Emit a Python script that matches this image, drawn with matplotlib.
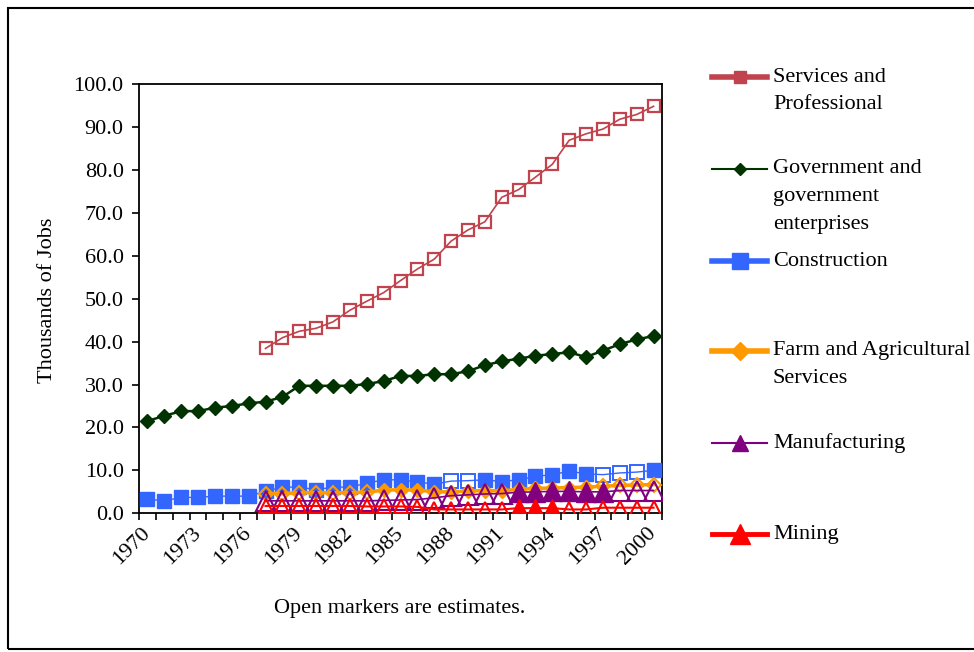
import numpy as np
import matplotlib
matplotlib.use("Agg")
import matplotlib.pyplot as plt
from matplotlib.lines import Line2D
from matplotlib.patches import Rectangle

plt.rcParams["font.family"] = ["Liberation Serif", "DejaVu Serif"]

# ---- data (thousands of jobs) ----
years = list(range(1970, 2001))
tick_years = list(range(1970, 2001, 3))

services = [None] * 7 + [38.4, 40.9, 42.4, 43.1, 44.6, 47.3, 49.4, 51.4, 54.2, 56.9,
                         59.2, 63.4, 66.0, 67.9, 73.6, 75.4, 78.3, 81.3, 86.9, 88.4,
                         89.5, 91.8, 92.9, 94.8]
services_est = [0] * 7 + [1] * 24

government = [21.5, 22.7, 23.8, 23.8, 24.6, 25.0, 25.6, 26.0, 27.1, 29.7,
              29.7, 29.7, 29.7, 30.1, 30.8, 32.0, 32.0, 32.4, 32.4, 33.1,
              34.5, 35.4, 36.0, 36.7, 37.1, 37.5, 36.4, 37.9, 39.4, 40.5, 41.3]
government_est = [0] * 31

construction = [3.3, 2.9, 3.7, 3.7, 4.0, 4.0, 4.0, 5.1, 6.1, 6.1,
                5.5, 6.1, 6.1, 7.0, 7.8, 7.8, 7.3, 6.8, 7.5, 7.6,
                7.8, 7.4, 7.8, 8.6, 9.0, 9.8, 9.2, 9.0, 9.4, 9.6, 10.0]
construction_est = [0] * 18 + [1, 1] + [0] * 7 + [1, 1, 1] + [0]

farm = [None] * 7 + [4.6, 4.6, 4.8, 4.8, 4.8, 4.8, 4.9, 5.4, 5.5, 5.4,
                     5.0, 5.0, 5.2, 5.3, 5.2, 5.6, 5.8, 5.9, 6.0, 6.1,
                     6.3, 6.5, 6.6, 6.7]
farm_est = [0] * 7 + [1] * 7 + [0] * 13 + [1] * 4

manufacturing = [None] * 7 + [2.9, 2.9, 2.9, 2.9, 2.9, 2.9, 2.9, 3.0, 3.1, 3.2,
                              3.6, 4.1, 4.3, 4.5, 4.6, 4.9, 5.0, 5.1, 5.1, 5.0,
                              5.0, 5.3, 5.3, 5.3]
manufacturing_est = [0] * 7 + [1] * 15 + [0] * 6 + [1] * 3

mining = [None] * 7 + [1.7, 1.7, 1.7, 1.7, 1.7, 1.7, 1.6, 1.6, 1.6, 1.5,
                       0.9, 0.9, 0.9, 0.9, 0.9, 1.2, 1.2, 1.2, 0.9, 0.9,
                       1.3, 1.3, 1.3, 1.3]
mining_est = [0] * 7 + [1] * 15 + [0] * 3 + [1] * 6

# ---- figure ----
W, H = 974, 652
fig = plt.figure(figsize=(W / 100, H / 100), dpi=100)


def fx(px):
    return px / W


def fy(py):
    return 1 - py / H


ax = fig.add_axes([fx(139), fy(513.3), fx(662) - fx(139), fy(84) - fy(513.3)])

x = np.arange(len(years))


def draw_series(vals, est, color, marker, ms, lw, mew=1.5, ms_actual=None, z=2):
    y = np.array([np.nan if v is None else v for v in vals], dtype=float)
    e = np.array(est, dtype=bool) & ~np.isnan(y)
    a = ~np.array(est, dtype=bool) & ~np.isnan(y)
    ax.plot(x, y, color=color, lw=lw, zorder=z, solid_joinstyle="round")
    ax.plot(x[a], y[a], ls="none", marker=marker, ms=ms_actual or ms,
            mfc=color, mec=color, mew=1.0, zorder=z)
    ax.plot(x[e], y[e], ls="none", marker=marker, ms=ms,
            mfc="none", mec=color, mew=mew, zorder=z)


c_serv = "#C0434D"
c_gov = "#003300"
c_con = "#3366FF"
c_farm = "#FF9900"
c_man = "#800080"
c_min = "#FF0000"

draw_series(services, services_est, c_serv, "s", 8.5, 1.2, mew=1.6, z=2)
draw_series(government, government_est, c_gov, "D", 7.0, 1.8, z=3)
draw_series(construction, construction_est, c_con, "s", 9.5, 1.0, mew=1.4, z=4)
draw_series(farm, farm_est, c_farm, "D", 7.5, 2.5, mew=1.5, z=5)
draw_series(manufacturing, manufacturing_est, c_man, "^", 14, 1.2, mew=1.5, z=6)
draw_series(mining, mining_est, c_min, "^", 10, 1.5, mew=1.5, ms_actual=13, z=7)

# axes
ax.set_xlim(-0.5, len(years) - 0.5)
ax.set_ylim(0, 100)
ax.set_yticks(np.arange(0, 101, 10))
ax.set_yticklabels([f"{v:.1f}" for v in np.arange(0, 101, 10)])
ax.set_xticks([years.index(t) for t in tick_years])
ax.set_xticklabels([str(t) for t in tick_years], rotation=45,
                   ha="right", va="center", rotation_mode="anchor")
ax.set_xticks(np.arange(-0.5, len(years), 1), minor=True)
ax.tick_params(axis="x", which="major", length=0, pad=12, labelsize=16)
ax.tick_params(axis="x", which="minor", length=5, width=1.2, direction="out")
ax.tick_params(axis="y", which="major", length=5, width=1.2, direction="out",
               pad=6, labelsize=16)
for s in ax.spines.values():
    s.set_linewidth(1.3)
    s.set_color("black")

fig.text(fx(48), fy(300), "Thousands of Jobs", rotation=90,
         ha="center", va="center", fontsize=16)
fig.text(fx(400), fy(608), "Open markers are estimates.",
         ha="center", va="center", fontsize=16)

# legend, drawn entry by entry
legend_entries = [
    (["Services and", "Professional"], c_serv, "s", 9, 4.0, 77),
    (["Government and", "government", "enterprises"], c_gov, "D", 6, 1.5, 169),
    (["Construction"], c_con, "s", 11, 4.0, 261),
    (["Farm and Agricultural", "Services"], c_farm, "D", 9, 4.0, 351),
    (["Manufacturing"], c_man, "^", 11, 1.5, 443),
    (["Mining"], c_min, "^", 14, 3.5, 534),
]
for lines, col, mk, ms, lw, ytop in legend_entries:
    ln = Line2D([fx(712), fx(740), fx(767)], [fy(ytop)] * 3, transform=fig.transFigure,
                color=col, lw=lw, marker=mk, ms=ms, mfc=col, mec=col,
                markevery=[1])
    fig.add_artist(ln)
    for k, t in enumerate(lines):
        fig.text(fx(773), fy(ytop + 27.5 * k), t, ha="left", va="center", fontsize=16)

# chart border (right side runs off the canvas)
fig.add_artist(Rectangle((fx(8), fy(649)), fx(1010) - fx(8), fy(8) - fy(649),
                         transform=fig.transFigure, fill=False, lw=1.5,
                         edgecolor="black", clip_on=False))

fig.savefig("out.png", dpi=100, facecolor="white")
